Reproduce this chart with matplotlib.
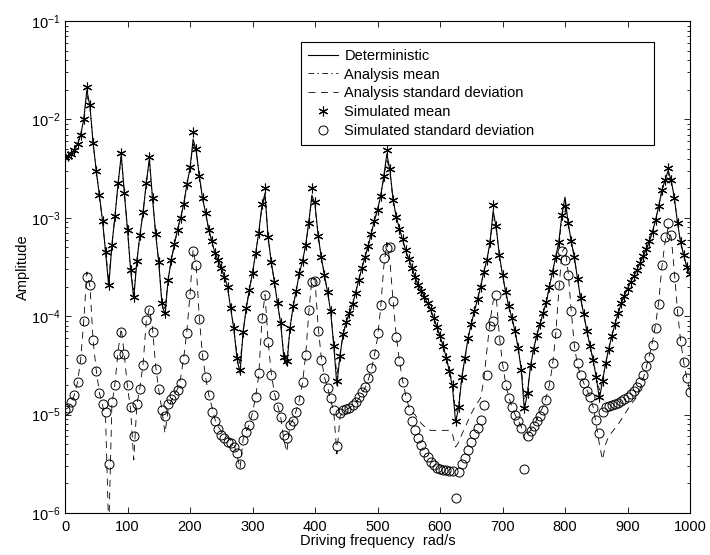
import matplotlib
matplotlib.use("Agg")
import matplotlib.pyplot as plt
import numpy as np
from matplotlib.ticker import LogLocator, NullFormatter, MultipleLocator

plt.rcParams['font.family'] = ['Liberation Sans', 'DejaVu Sans']
plt.rcParams['font.size'] = 10.5
plt.rcParams['lines.scale_dashes'] = False

# driving frequency grid, rad/s
freq = np.arange(0, 1001, 5)

# log10 amplitudes, 10 values per 50 rad/s
deterministic = [
    -2.38, -2.37, -2.35, -2.31, -2.25, -2.16, -2.00, -1.70, -1.87, -2.24,
    -2.52, -2.77, -3.03, -3.35, -3.70, -3.28, -2.98, -2.65, -2.36, -2.75,
    -3.12, -3.53, -3.82, -3.44, -3.17, -2.94, -2.65, -2.40, -2.80, -3.16,
    -3.45, -3.87, -3.99, -3.63, -3.43, -3.27, -3.12, -3.00, -2.86, -2.66,
    -2.50, -2.20, -2.32, -2.58, -2.80, -2.95, -3.12, -3.24, -3.36, -3.43,
    -3.51, -3.60, -3.70, -3.92, -4.12, -4.42, -4.58, -4.16, -3.92, -3.73,
    -3.56, -3.36, -3.15, -2.88, -2.75, -3.20, -3.45, -3.65, -3.87, -4.07,
    -4.41, -4.50, -4.12, -3.90, -3.74, -3.56, -3.44, -3.28, -3.05, -2.77,
    -2.86, -3.18, -3.40, -3.58, -3.75, -3.95, -4.30, -4.70, -4.40, -4.18,
    -4.06, -3.97, -3.88, -3.76, -3.63, -3.51, -3.40, -3.29, -3.16, -3.03,
    -2.92, -2.78, -2.58, -2.35, -2.52, -2.82, -2.99, -3.11, -3.22, -3.33,
    -3.42, -3.51, -3.60, -3.68, -3.74, -3.80, -3.87, -3.93, -4.02, -4.11,
    -4.20, -4.30, -4.42, -4.56, -4.72, -5.08, -4.92, -4.62, -4.42, -4.22,
    -4.08, -3.95, -3.83, -3.70, -3.55, -3.43, -3.25, -2.93, -3.10, -3.38,
    -3.58, -3.75, -3.90, -4.02, -4.15, -4.32, -4.55, -4.95, -4.78, -4.50,
    -4.33, -4.19, -4.08, -3.97, -3.86, -3.70, -3.55, -3.40, -3.25, -2.97,
    -2.79, -3.05, -3.24, -3.40, -3.62, -3.82, -3.98, -4.15, -4.30, -4.45,
    -4.62, -4.84, -4.66, -4.48, -4.33, -4.20, -4.08, -3.97, -3.87, -3.79,
    -3.72, -3.65, -3.59, -3.53, -3.46, -3.39, -3.32, -3.24, -3.14, -3.02,
    -2.88, -2.72, -2.62, -2.52, -2.62, -2.80, -3.05, -3.25, -3.38, -3.50,
    -3.57]

analysis_mean = [
    -2.38, -2.37, -2.35, -2.31, -2.25, -2.16, -2.00, -1.75, -1.88, -2.24,
    -2.52, -2.77, -3.03, -3.35, -3.62, -3.28, -2.98, -2.65, -2.38, -2.75,
    -3.12, -3.53, -3.75, -3.44, -3.17, -2.94, -2.65, -2.42, -2.80, -3.16,
    -3.45, -3.85, -3.92, -3.63, -3.43, -3.27, -3.12, -3.00, -2.86, -2.66,
    -2.50, -2.25, -2.33, -2.58, -2.80, -2.95, -3.12, -3.24, -3.36, -3.43,
    -3.51, -3.60, -3.70, -3.92, -4.12, -4.38, -4.48, -4.16, -3.92, -3.73,
    -3.56, -3.36, -3.15, -2.90, -2.78, -3.20, -3.45, -3.65, -3.87, -4.07,
    -4.38, -4.42, -4.12, -3.90, -3.74, -3.56, -3.44, -3.28, -3.05, -2.80,
    -2.88, -3.18, -3.40, -3.58, -3.75, -3.95, -4.28, -4.60, -4.40, -4.18,
    -4.06, -3.97, -3.88, -3.76, -3.63, -3.51, -3.40, -3.29, -3.16, -3.03,
    -2.92, -2.78, -2.60, -2.40, -2.55, -2.82, -2.99, -3.11, -3.22, -3.33,
    -3.42, -3.51, -3.60, -3.68, -3.74, -3.80, -3.87, -3.93, -4.02, -4.11,
    -4.20, -4.30, -4.42, -4.55, -4.68, -4.98, -4.88, -4.62, -4.42, -4.22,
    -4.08, -3.95, -3.83, -3.70, -3.55, -3.43, -3.27, -2.98, -3.12, -3.38,
    -3.58, -3.75, -3.90, -4.02, -4.15, -4.32, -4.52, -4.85, -4.75, -4.50,
    -4.33, -4.19, -4.08, -3.97, -3.86, -3.70, -3.55, -3.41, -3.27, -3.02,
    -2.90, -3.07, -3.24, -3.40, -3.62, -3.82, -3.98, -4.15, -4.30, -4.44,
    -4.60, -4.75, -4.64, -4.48, -4.33, -4.20, -4.08, -3.97, -3.87, -3.79,
    -3.72, -3.65, -3.59, -3.53, -3.46, -3.39, -3.32, -3.24, -3.14, -3.02,
    -2.88, -2.73, -2.64, -2.56, -2.64, -2.80, -3.05, -3.25, -3.38, -3.50,
    -3.57]

analysis_std = [
    -4.95, -4.93, -4.88, -4.80, -4.67, -4.45, -4.05, -3.55, -3.70, -4.25,
    -4.55, -4.78, -4.90, -5.05, -6.20, -4.90, -4.68, -4.35, -4.12, -4.40,
    -4.72, -4.95, -5.46, -4.90, -4.72, -4.48, -4.05, -3.92, -4.12, -4.50,
    -4.75, -4.95, -5.19, -4.95, -4.86, -4.80, -4.74, -4.63, -4.42, -4.15,
    -3.78, -3.32, -3.50, -4.02, -4.40, -4.62, -4.80, -4.92, -5.05, -5.12,
    -5.17, -5.20, -5.23, -5.26, -5.30, -5.40, -5.55, -5.25, -5.17, -5.10,
    -4.98, -4.82, -4.60, -4.05, -3.78, -4.25, -4.58, -4.78, -4.90, -5.02,
    -5.25, -5.38, -5.10, -5.05, -4.96, -4.85, -4.68, -4.40, -3.97, -3.62,
    -3.63, -4.10, -4.42, -4.62, -4.72, -4.85, -4.97, -5.40, -5.02, -4.97,
    -4.95, -4.93, -4.91, -4.88, -4.84, -4.79, -4.73, -4.65, -4.55, -4.40,
    -4.22, -3.92, -3.50, -3.25, -3.45, -3.85, -4.20, -4.45, -4.65, -4.80,
    -4.92, -4.98, -5.00, -5.05, -5.09, -5.12, -5.15, -5.16, -5.16, -5.16,
    -5.16, -5.16, -5.16, -5.16, -5.20, -5.33, -5.28, -5.20, -5.13, -5.06,
    -4.99, -4.93, -4.88, -4.83, -4.65, -4.35, -4.05, -3.85, -3.80, -4.20,
    -4.48, -4.68, -4.82, -4.92, -5.00, -5.06, -5.12, -5.25, -5.20, -5.16,
    -5.11, -5.05, -4.98, -4.92, -4.82, -4.70, -4.50, -4.20, -3.75, -3.35,
    -3.30, -3.55, -3.95, -4.30, -4.50, -4.60, -4.68, -4.75, -4.82, -4.92,
    -5.10, -5.30, -5.46, -5.30, -5.22, -5.18, -5.14, -5.10, -5.05, -5.00,
    -4.95, -4.90, -4.86, -4.82, -4.74, -4.64, -4.52, -4.40, -4.26, -4.08,
    -3.85, -3.50, -3.25, -3.10, -3.20, -3.55, -3.95, -4.25, -4.47, -4.63,
    -4.77]

simulated_mean = [
    -2.38, -2.37, -2.35, -2.31, -2.25, -2.16, -2.00, -1.67, -1.85, -2.24,
    -2.52, -2.77, -3.03, -3.35, -3.68, -3.28, -2.98, -2.65, -2.34, -2.75,
    -3.12, -3.53, -3.80, -3.44, -3.17, -2.94, -2.65, -2.38, -2.80, -3.16,
    -3.45, -3.87, -3.97, -3.63, -3.43, -3.27, -3.12, -3.00, -2.86, -2.66,
    -2.48, -2.13, -2.30, -2.58, -2.80, -2.95, -3.12, -3.24, -3.36, -3.43,
    -3.51, -3.60, -3.70, -3.92, -4.12, -4.42, -4.55, -4.16, -3.92, -3.73,
    -3.56, -3.36, -3.15, -2.86, -2.70, -3.20, -3.45, -3.65, -3.87, -4.07,
    -4.41, -4.46, -4.12, -3.90, -3.74, -3.56, -3.44, -3.28, -3.05, -2.70,
    -2.84, -3.18, -3.40, -3.58, -3.75, -3.95, -4.30, -4.66, -4.40, -4.18,
    -4.06, -3.97, -3.88, -3.76, -3.63, -3.51, -3.40, -3.29, -3.16, -3.03,
    -2.92, -2.78, -2.58, -2.31, -2.50, -2.82, -2.99, -3.11, -3.22, -3.33,
    -3.42, -3.51, -3.60, -3.68, -3.74, -3.80, -3.87, -3.93, -4.02, -4.11,
    -4.20, -4.30, -4.42, -4.56, -4.70, -5.07, -4.92, -4.62, -4.42, -4.22,
    -4.08, -3.95, -3.83, -3.70, -3.55, -3.43, -3.25, -2.87, -3.08, -3.38,
    -3.58, -3.75, -3.90, -4.02, -4.15, -4.32, -4.55, -4.93, -4.78, -4.50,
    -4.33, -4.19, -4.08, -3.97, -3.86, -3.70, -3.55, -3.40, -3.25, -2.97,
    -2.88, -3.05, -3.24, -3.40, -3.62, -3.82, -3.98, -4.15, -4.30, -4.45,
    -4.62, -4.82, -4.66, -4.48, -4.33, -4.20, -4.08, -3.97, -3.87, -3.79,
    -3.72, -3.65, -3.59, -3.53, -3.46, -3.39, -3.32, -3.24, -3.14, -3.02,
    -2.88, -2.72, -2.62, -2.49, -2.62, -2.80, -3.05, -3.25, -3.38, -3.50,
    -3.57]

simulated_std = [
    -4.95, -4.93, -4.87, -4.80, -4.67, -4.44, -4.05, -3.60, -3.68, -4.24,
    -4.56, -4.78, -4.89, -4.97, -5.50, -4.87, -4.70, -4.38, -4.16, -4.38,
    -4.70, -4.92, -5.22, -4.89, -4.74, -4.50, -4.04, -3.94, -4.16, -4.54,
    -4.74, -4.95, -5.01, -4.89, -4.84, -4.80, -4.75, -4.68, -4.44, -4.17,
    -3.77, -3.34, -3.48, -4.03, -4.39, -4.62, -4.80, -4.97, -5.07, -5.15,
    -5.21, -5.24, -5.28, -5.29, -5.33, -5.39, -5.50, -5.26, -5.18, -5.11,
    -5.00, -4.82, -4.58, -4.02, -3.78, -4.26, -4.60, -4.80, -4.92, -5.02,
    -5.21, -5.24, -5.11, -5.06, -4.97, -4.85, -4.67, -4.39, -3.94, -3.65,
    -3.64, -4.15, -4.45, -4.63, -4.73, -4.83, -4.95, -5.32, -4.98, -4.95,
    -4.94, -4.93, -4.90, -4.87, -4.82, -4.77, -4.72, -4.63, -4.53, -4.38,
    -4.17, -3.89, -3.41, -3.31, -3.30, -3.85, -4.21, -4.46, -4.67, -4.82,
    -4.95, -5.07, -5.16, -5.24, -5.31, -5.38, -5.43, -5.48, -5.51, -5.54,
    -5.55, -5.56, -5.56, -5.57, -5.57, -5.85, -5.58, -5.50, -5.44, -5.36,
    -5.28, -5.20, -5.14, -5.05, -4.90, -4.60, -4.10, -4.05, -3.78, -4.24,
    -4.51, -4.70, -4.83, -4.92, -5.00, -5.06, -5.14, -5.55, -5.22, -5.17,
    -5.12, -5.06, -5.01, -4.95, -4.85, -4.70, -4.48, -4.17, -3.68, -3.34,
    -3.43, -3.58, -3.95, -4.30, -4.48, -4.60, -4.68, -4.76, -4.82, -4.93,
    -5.05, -5.19, -4.97, -4.92, -4.91, -4.90, -4.89, -4.88, -4.86, -4.84,
    -4.82, -4.79, -4.76, -4.72, -4.67, -4.60, -4.51, -4.41, -4.29, -4.12,
    -3.88, -3.48, -3.20, -3.05, -3.17, -3.60, -3.95, -4.25, -4.47, -4.63,
    -4.77]

fig = plt.figure(figsize=(7.1, 5.55), dpi=100)
ax = fig.add_axes([65 / 710, 42 / 555, 625 / 710, 492 / 555])

ax.semilogy(freq, 10.0 ** np.array(deterministic), '-', color='k', lw=0.8,
            label='Deterministic')
ax.semilogy(freq, 10.0 ** np.array(analysis_mean), color='k', lw=0.6,
            dashes=(4, 2.5, 1, 2.5), label='Analysis mean')
ax.semilogy(freq, 10.0 ** np.array(analysis_std), color='k', lw=0.6,
            dashes=(5, 4), label='Analysis standard deviation')
ax.semilogy(freq, 10.0 ** np.array(simulated_mean), ls='none',
            marker=(6, 2, 0), ms=7, mew=0.8, color='k', label='Simulated mean')
ax.semilogy(freq, 10.0 ** np.array(simulated_std), ls='none', marker='o',
            ms=6.5, mew=0.7, mfc='none', mec='k',
            label='Simulated standard deviation')

ax.set_xlim(0, 1000)
ax.set_ylim(1e-6, 1e-1)
ax.xaxis.set_major_locator(MultipleLocator(100))
ax.yaxis.set_major_locator(LogLocator(base=10))
ax.yaxis.set_minor_locator(LogLocator(base=10, subs=np.arange(2, 10)))
ax.yaxis.set_minor_formatter(NullFormatter())
ax.tick_params(which='both', direction='in', top=True, right=True,
               width=0.6, labelsize=10.5)
ax.tick_params(which='major', length=4.5)
ax.tick_params(which='minor', length=2.5)
ax.tick_params(axis='x', pad=5)
ax.tick_params(axis='y', pad=3)
for s in ax.spines.values():
    s.set_linewidth(0.8)

ax.set_xlabel('Driving frequency  rad/s', labelpad=0)
ax.set_ylabel('Amplitude', labelpad=1)

leg = ax.legend(loc='upper left', bbox_to_anchor=(0.378, 0.957, 0.564, 0),
                mode='expand', borderaxespad=0, fancybox=False,
                edgecolor='k', framealpha=1, fontsize=10.5, handlelength=2.1,
                handletextpad=0.4, labelspacing=0.33, borderpad=0.45)
leg.get_frame().set_linewidth(0.8)

fig.savefig('out.png', dpi=100)
